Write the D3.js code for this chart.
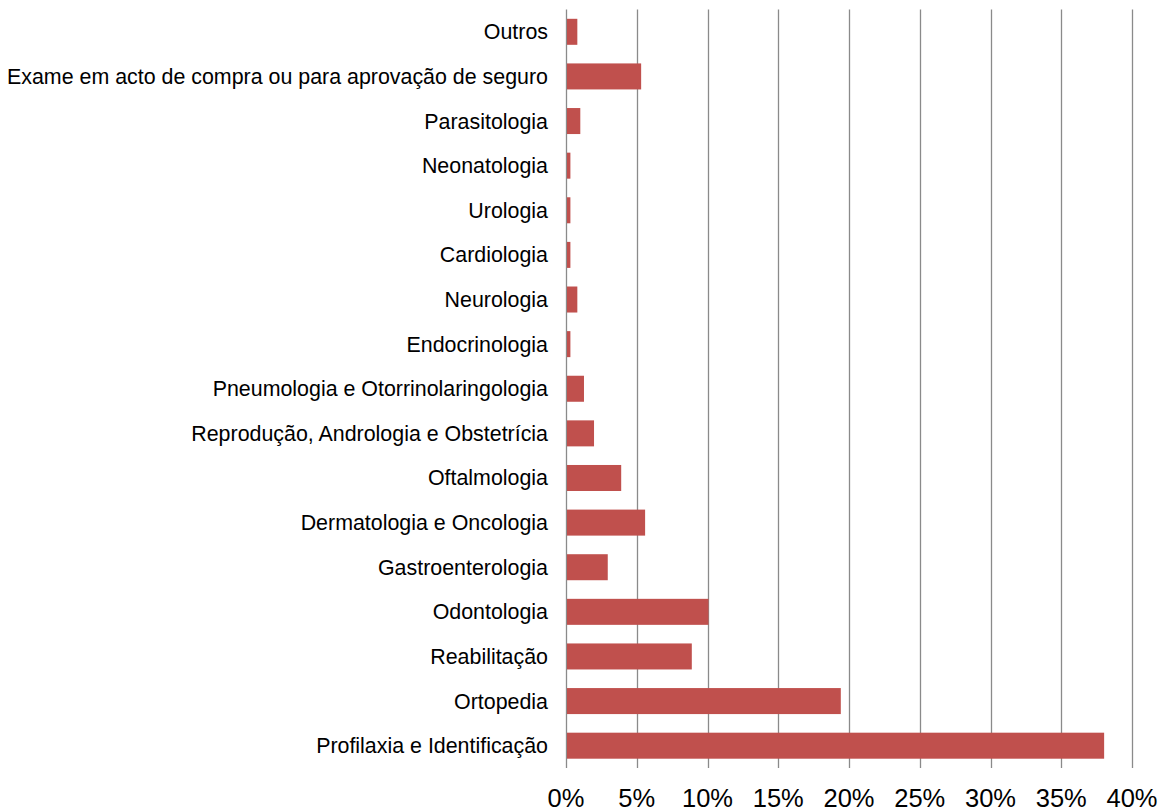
<!DOCTYPE html>
<html>
<head>
<meta charset="utf-8">
<script src="https://cdn.jsdelivr.net/npm/d3@7"></script>
<style>
  body { margin: 0; background: #fff; }
  text { font-family: "Liberation Sans", Arial, sans-serif; fill: #000; }
</style>
</head>
<body>
<div id="chart"></div>
<script>
(function(){

    const width = 1170;
    const height = 812;

    // categories from top to bottom
    const categories = [
        'Outros',
        'Exame em acto de compra ou para aprovação de seguro',
        'Parasitologia',
        'Neonatologia',
        'Urologia',
        'Cardiologia',
        'Neurologia',
        'Endocrinologia',
        'Pneumologia e Otorrinolaringologia',
        'Reprodução, Andrologia e Obstetrícia',
        'Oftalmologia',
        'Dermatologia e Oncologia',
        'Gastroenterologia',
        'Odontologia',
        'Reabilitação',
        'Ortopedia',
        'Profilaxia e Identificação'
    ];
    // share in %
    const values = [0.73, 5.24, 0.94, 0.24, 0.24, 0.24, 0.73, 0.24, 1.2, 1.91, 3.83, 5.52, 2.88, 10.0, 8.82, 19.35, 37.96];
    const ticks = [0, 5, 10, 15, 20, 25, 30, 35, 40];

    const margin = {top: 9.5, right: 38, bottom: 44, left: 566};

    const data = categories.map((c, i) => ({cat: c, val: values[i]}));

    const svg = d3.select("#chart")
        .append("svg")
        .attr("width", width)
        .attr("height", height);

    const x = d3.scaleLinear().domain([0, 40]).range([margin.left, width - margin.right]);
    const y = d3.scaleBand().domain(categories)
        .range([margin.top, height - margin.bottom])
        .paddingInner(0.417).paddingOuter(0.2085);

    // gridlines
    svg.append("g")
        .selectAll("line")
        .data(ticks)
        .enter().append("line")
        .attr("x1", d => Math.round(x(d)) + 0.5)
        .attr("x2", d => Math.round(x(d)) + 0.5)
        .attr("y1", margin.top)
        .attr("y2", height - margin.bottom)
        .attr("stroke", "#8a8a8a")
        .attr("stroke-width", 1.3);

    // bars
    svg.append("g")
        .selectAll("rect")
        .data(data)
        .enter().append("rect")
        .attr("x", x(0) + 1)
        .attr("y", d => y(d.cat))
        .attr("width", d => x(d.val) - x(0))
        .attr("height", y.bandwidth())
        .attr("fill", "#c0504d");

    // category labels
    svg.append("g")
        .selectAll("text")
        .data(categories)
        .enter().append("text")
        .attr("x", x(0) - 18)
        .attr("y", d => y(d) + y.bandwidth() / 2)
        .attr("dy", "0.35em")
        .attr("text-anchor", "end")
        .style("font-size", "21.4px")
        .text(d => d);

    // x tick labels
    svg.append("g")
        .selectAll("text")
        .data(ticks)
        .enter().append("text")
        .attr("x", d => x(d))
        .attr("y", 806.5)
        .attr("text-anchor", "middle")
        .style("font-size", "25.5px")
        .text(d => d + "%");

}());
</script>
</body>
</html>
